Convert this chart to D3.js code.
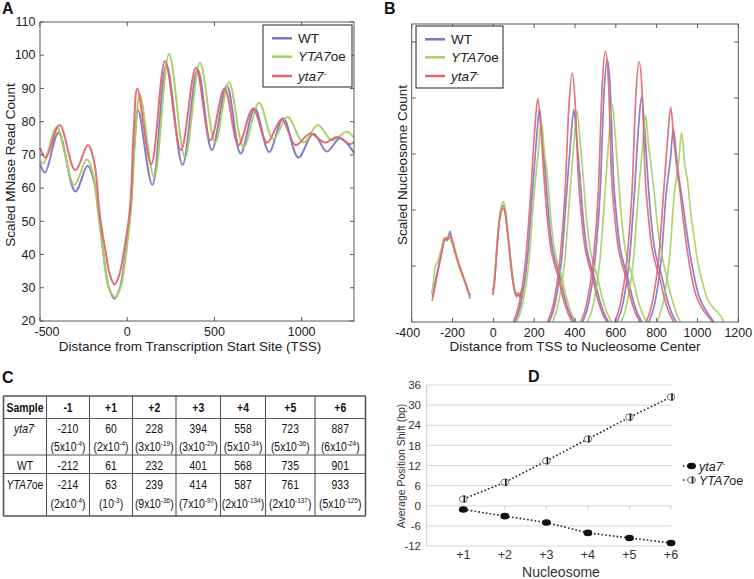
<!DOCTYPE html>
<html><head><meta charset="utf-8">
<script src="https://cdn.jsdelivr.net/npm/d3@7"></script>
<style>
body{margin:0;background:#fff;}
svg{display:block;font-family:"Liberation Sans",Arial,sans-serif;}
</style></head><body>
<svg id="fig" width="754" height="579"></svg>
<script>
// ---------------- DATA ----------------
const strainKeys = ["WT","YTA7oe","yta7-"];
const strainColors = {"WT":"#7a76c6","YTA7oe":"#a6cf62","yta7-":"#e2666f"};

// Panel A: scaled MNase read count vs distance from TSS
const mnaseWT = [[-500,67.2],[-471,64.7],[-394,76.7],[-298,59],[-227,66.7],[-190,62],[-165,53],[-136,40],[-105,30],[-73,26.7],[-42,30],[-10,40],[20,54],[42,73],[63,83.4],[144,61],[225,97],[317,67],[404,95.7],[485,71.4],[571,90.7],[650,70.4],[731,84],[813,70.9],[894,81],[981,69.2],[1067,76.4],[1144,71],[1221,75],[1300,70.6]];
const mnaseOE = [[-500,68.2],[-480,67.4],[-404,78.4],[-304,61],[-231,68.7],[-195,64],[-168,53],[-136,40],[-105,30],[-67,27.2],[-36,30.5],[-7,40],[22,54],[47,77],[73,88.2],[154,63.2],[240,100.4],[331,69.2],[417,97.7],[504,73.7],[583,91.9],[667,72.4],[756,85.7],[837,74.7],[919,81.4],[1010,73.7],[1092,79],[1173,74.4],[1260,77],[1300,75.2]];
const mnaseYta7 = [[-500,72.2],[-467,69.2],[-388,79],[-298,65.4],[-225,73],[-190,68],[-155,51],[-121,40],[-100,34],[-73,31],[-45,34],[-22,40],[16,54],[37,77],[58,90],[138,67.2],[217,98.2],[308,71.4],[394,96.2],[477,74.4],[558,90],[638,73],[721,84],[802,73.7],[885,80.7],[965,73],[1048,76.4],[1135,73.7],[1202,75.4],[1279,73.2],[1300,74]];
const aXTicks = [-500,0,500,1000];
const aYTicks = [20,30,40,50,60,70,80,90,100,110];

// Panel B: scaled nucleosome count (one segment per nucleosome)
const nucWT = [
 [[-298,0.45],[-290,0.62],[-280,0.8],[-268,1.0],[-256,1.2],[-246,1.38],[-236,1.5],[-228,1.45],[-220,1.52],[-212,1.62],[-204,1.48],[-192,1.3],[-178,1.12],[-165,0.98],[-150,0.82],[-136,0.68],[-124,0.55],[-114,0.42]],
 [[-2,0.55],[6,0.78],[14,1.15],[22,1.55],[32,1.9],[42,2.05],[50,2.08],[58,1.98],[66,1.75],[74,1.48],[82,1.2],[90,0.92],[98,0.7],[106,0.55],[114,0.48],[122,0.52],[130,0.47],[138,0.55],[144,0.62]],
 [[106,0],[136,0.35],[166,1.1],[191,2.3],[211,3.24],[226,3.79],[241,3.24],[256,2.6],[271,1.9],[288,1.35],[306,1.05],[326,0.8],[348,0.45],[371,0.18],[396,0]],
 [[274,0],[304,0.35],[334,1.1],[359,2.3],[379,3.24],[394,3.79],[409,3.24],[424,2.6],[439,1.9],[456,1.35],[474,1.05],[494,0.8],[516,0.45],[539,0.18],[564,0]],
 [[438,0],[468,0.35],[498,1.1],[523,2.3],[543,4.14],[558,4.69],[573,4.14],[588,2.6],[603,1.9],[620,1.35],[638,1.05],[658,0.8],[680,0.45],[703,0.18],[728,0]],
 [[606,0],[636,0.35],[666,1.1],[691,2.3],[711,3.47],[726,4.02],[741,3.47],[756,2.6],[771,1.9],[788,1.35],[806,1.05],[826,0.8],[848,0.45],[871,0.18],[896,0]],
 [[762,0],[792,0.35],[822,1.1],[847,2.3],[867,2.89],[882,3.44],[897,2.95],[912,2.5],[927,2.15],[944,1.7],[962,1.25],[982,0.85],[1004,0.5],[1027,0.3],[1052,0.15],[1080,0]]
];
const nucOE = [
 [[-302,0.5],[-294,0.7],[-286,0.98],[-276,1.05],[-264,1.18],[-252,1.35],[-242,1.5],[-234,1.47],[-224,1.53],[-214,1.48],[-204,1.42],[-192,1.28],[-178,1.1],[-162,0.92],[-148,0.8],[-134,0.66],[-122,0.52],[-114,0.46]],
 [[-4,0.5],[4,0.72],[12,1.1],[20,1.5],[30,1.88],[40,2.08],[50,2.15],[58,2.02],[66,1.8],[74,1.52],[82,1.22],[90,0.95],[98,0.72],[106,0.56],[114,0.5],[122,0.48],[130,0.52],[138,0.5],[146,0.6]],
 [[115,0],[145,0.35],[175,1.1],[200,2.3],[220,3.03],[235,3.58],[250,3.03],[265,2.6],[280,1.9],[297,1.35],[315,1.05],[335,0.8],[357,0.45],[380,0.18],[405,0]],
 [[290,0],[320,0.35],[350,1.1],[375,2.3],[395,3.22],[410,3.77],[425,3.22],[440,2.6],[455,1.9],[472,1.35],[490,1.05],[510,0.8],[532,0.45],[555,0.18],[580,0]],
 [[462,0],[492,0.35],[522,1.1],[547,2.3],[567,3.33],[582,3.88],[597,3.33],[612,2.6],[627,1.9],[644,1.35],[662,1.05],[682,0.8],[704,0.45],[727,0.18],[752,0]],
 [[626,0],[656,0.35],[686,1.1],[711,2.3],[731,3.13],[746,3.68],[761,3.13],[776,2.7],[791,2.2],[808,1.6],[826,1.2],[846,0.85],[868,0.5],[891,0.22],[916,0]],
 [[802,0],[832,0.35],[862,1.1],[887,2.3],[907,2.83],[922,3.38],[937,2.83],[952,2.5],[967,1.95],[984,1.5],[1002,1.05],[1022,0.75],[1044,0.45],[1067,0.3],[1092,0.2],[1115,0.1],[1130,0]]
];
const nucYta7 = [
 [[-300,0.38],[-290,0.55],[-278,0.78],[-266,1.0],[-254,1.22],[-244,1.4],[-234,1.5],[-226,1.47],[-218,1.5],[-208,1.52],[-200,1.45],[-188,1.28],[-174,1.1],[-160,0.95],[-146,0.8],[-132,0.66],[-120,0.52],[-112,0.48]],
 [[-2,0.48],[6,0.72],[14,1.1],[22,1.5],[32,1.85],[42,2.0],[50,2.03],[58,1.93],[66,1.7],[74,1.42],[82,1.15],[90,0.88],[98,0.66],[106,0.52],[114,0.45],[122,0.5],[130,0.44],[138,0.52],[144,0.6]],
 [[98,0],[128,0.35],[158,1.1],[183,2.3],[203,3.44],[218,3.99],[233,3.44],[248,2.6],[263,1.9],[280,1.35],[298,1.05],[318,0.8],[340,0.45],[363,0.18],[388,0]],
 [[266,0],[296,0.35],[326,1.1],[351,2.3],[371,3.9],[386,4.45],[401,3.9],[416,2.6],[431,1.9],[448,1.35],[466,1.05],[486,0.8],[508,0.45],[531,0.18],[556,0]],
 [[429,0],[459,0.35],[489,1.1],[514,2.3],[534,4.28],[549,4.83],[564,4.28],[579,2.6],[594,1.9],[611,1.35],[629,1.05],[649,0.8],[671,0.45],[694,0.18],[719,0]],
 [[594,0],[624,0.35],[654,1.1],[679,2.3],[699,4.1],[714,4.65],[729,4.1],[744,2.6],[759,1.9],[776,1.35],[794,1.05],[814,0.8],[836,0.45],[859,0.18],[884,0]],
 [[749,0],[779,0.35],[809,1.1],[834,2.3],[854,3.28],[869,3.83],[884,3.28],[899,2.75],[914,2.35],[931,1.8],[949,1.3],[969,0.85],[991,0.5],[1014,0.3],[1040,0.15],[1075,0]]
];
const bXTicks = [-400,-200,0,200,400,600,800,1000,1200];
const bYTicks = [1,2,3,4,5];

// Panel C: table of nucleosome positions (p-values in parentheses)
const tableHeader = ["Sample","-1","+1","+2","+3","+4","+5","+6"];
const posYta7 = [-210,60,228,394,558,723,887];
const pYta7 = [["5","-4"],["2","-4"],["3","-19"],["3","-29"],["5","-34"],["5","-36"],["6","-24"]];
const posWT = [-212,61,232,401,568,735,901];
const posOE = [-214,63,239,414,587,761,933];
const pOE = [["2","-4"],[null,"-3"],["9","-36"],["7","-97"],["2","-134"],["2","-137"],["5","-125"]];

// Panel D: average position shift (bp) relative to WT
const nucleosomes = ["+1","+2","+3","+4","+5","+6"];
const shiftYta7 = [-1.1,-3.1,-5.0,-8.1,-9.6,-11.1];
const shiftOE = [2.0,7.0,13.4,19.9,26.4,32.4];
const shiftOEErr = [0.9,0.9,0.9,0.9,0.9,0.9];
const dYTicks = [-12,-6,0,6,12,18,24,30,36];

// ---------------- DRAW ----------------
const svg = d3.select("#fig");

function strainLabel(t, key, supSize, dy){
  if(key==="WT"){ t.append("tspan").text("WT"); }
  else if(key==="YTA7oe"){ t.append("tspan").attr("font-style","italic").text("YTA7"); t.append("tspan").text("oe"); }
  else { t.append("tspan").attr("font-style","italic").text("yta7"); t.append("tspan").attr("font-size",supSize).attr("dy",-dy).text("-"); }
}

function panelLetter(x,y,l){
  svg.append("text").attr("x",x).attr("y",y).attr("font-size",16).attr("font-weight","bold").attr("fill","#111").text(l);
}

function boxAxes(g, xs, ys, xt, yt, showYLabels, firstShift){
  const [x0,x1]=xs.range(), [y0,y1]=ys.range();
  g.append("rect").attr("x",x0).attr("y",y1).attr("width",x1-x0).attr("height",y0-y1)
    .attr("fill","none").attr("stroke","#5a5a5a").attr("stroke-width",1);
  xt.forEach((v,i)=>{
    const x=xs(v);
    g.append("line").attr("x1",x).attr("x2",x).attr("y1",y0).attr("y2",y0-4).attr("stroke","#5a5a5a");
    g.append("line").attr("x1",x).attr("x2",x).attr("y1",y1).attr("y2",y1+4).attr("stroke","#5a5a5a");
    g.append("text").attr("x",x+(i===0?firstShift:0)).attr("y",y0+15).attr("text-anchor","middle").attr("font-size",12.5).attr("fill","#222").text(v);
  });
  yt.forEach(v=>{
    const y=ys(v);
    g.append("line").attr("x1",x0).attr("x2",x0+4).attr("y1",y).attr("y2",y).attr("stroke","#5a5a5a");
    g.append("line").attr("x1",x1).attr("x2",x1-4).attr("y1",y).attr("y2",y).attr("stroke","#5a5a5a");
    if(showYLabels) g.append("text").attr("x",x0-4.5).attr("y",y+4.2).attr("text-anchor","end").attr("font-size",12.5).attr("fill","#222").text(v);
  });
}

function legendBox(g, x, y, w, h, rows){
  g.append("rect").attr("x",x).attr("y",y).attr("width",w).attr("height",h).attr("fill","#fff").attr("stroke","#222").attr("stroke-width",1);
  strainKeys.forEach((k,i)=>{
    const yy = rows[i];
    g.append("line").attr("x1",x+9).attr("x2",x+29).attr("y1",yy).attr("y2",yy).attr("stroke",strainColors[k]).attr("stroke-width",2.5);
    const t = g.append("text").attr("x",x+35).attr("y",yy+4.6).attr("font-size",13.5).attr("fill","#222");
    strainLabel(t,k,8,5);
  });
}

// ---- Panel A ----
panelLetter(2,14,"A");
const gA = svg.append("g");
const ax = d3.scaleLinear().domain([-500,1300]).range([40,354]);
const ay = d3.scaleLinear().domain([20,110]).range([321,22]);
const lineA = d3.line().x(d=>ax(d[0])).y(d=>ay(d[1])).curve(d3.curveCatmullRom.alpha(0.5));
[[mnaseWT,"WT"],[mnaseOE,"YTA7oe"],[mnaseYta7,"yta7-"]].forEach(([d,k])=>{
  gA.append("path").attr("d",lineA(d)).attr("fill","none").attr("stroke",strainColors[k]).attr("stroke-width",2).attr("stroke-opacity",0.95);
});
boxAxes(gA, ax, ay, aXTicks, aYTicks, true, 7);
legendBox(gA, 263, 25, 89, 62, [38.3,56.7,76]);
gA.append("text").attr("transform","translate(15,165) rotate(-90)").attr("text-anchor","middle").attr("font-size",13.5).attr("fill","#222").text("Scaled MNase Read Count");
gA.append("text").attr("x",190).attr("y",351).attr("text-anchor","middle").attr("font-size",13.5).attr("fill","#222").text("Distance from Transcription Start Site (TSS)");

// ---- Panel B ----
panelLetter(384,14,"B");
const gB = svg.append("g");
const bx = d3.scaleLinear().domain([-400,1200]).range([411.7,738.3]);
const by = d3.scaleLinear().domain([0,5.32]).range([322,24]);
const lineB = d3.line().x(d=>bx(d[0])).y(d=>by(d[1])).curve(d3.curveMonotoneX);
[[nucWT,"WT"],[nucOE,"YTA7oe"],[nucYta7,"yta7-"]].forEach(([segs,k])=>{
  segs.forEach(s=>{
    gB.append("path").attr("d",lineB(s)).attr("fill","none").attr("stroke",strainColors[k]).attr("stroke-width",1.7).attr("stroke-opacity",0.9);
  });
});
boxAxes(gB, bx, by, bXTicks, bYTicks, false, -4);
legendBox(gB, 416, 26, 87, 62, [39.3,57.3,76]);
gB.append("text").attr("transform","translate(407,165) rotate(-90)").attr("text-anchor","middle").attr("font-size",13.5).attr("fill","#222").text("Scaled Nucleosome Count");
gB.append("text").attr("x",575).attr("y",351).attr("text-anchor","middle").attr("font-size",13.5).attr("fill","#222").text("Distance from TSS to Nucleosome Center");

// ---- Panel C ----
panelLetter(2,383,"C");
const gC = svg.append("g");
const colX = [3.5,46.5,89.5,132.5,176,220.5,265.5,315,365.5];
const rowY = [396,418.5,455,473.5,516];
const cx = i => (colX[i]+colX[i+1])/2;
const NARROW = 0.8;
function cellText(x,y){
  return gC.append("text").attr("transform",`translate(${x},${y}) scale(${NARROW},1)`)
    .attr("text-anchor","middle").attr("font-size",13).attr("fill","#111");
}
rowY.forEach((y,i)=>{
  gC.append("line").attr("x1",colX[0]).attr("x2",colX[colX.length-1]).attr("y1",y).attr("y2",y)
    .attr("stroke","#555").attr("stroke-width",(i===0||i===rowY.length-1)?1.6:1.1);
});
colX.forEach((x,i)=>{
  gC.append("line").attr("x1",x).attr("x2",x).attr("y1",rowY[0]).attr("y2",rowY[rowY.length-1])
    .attr("stroke","#555").attr("stroke-width",(i===0||i===colX.length-1)?1.6:1.1);
});
tableHeader.forEach((h,i)=>{
  cellText(cx(i),412).attr("font-weight","bold").text(h);
});
function sampleCell(key,y){ strainLabel(cellText(cx(0),y),key,8,5); }
function pCell(i,p,y){
  const t = cellText(cx(i+1),y);
  t.append("tspan").text("(" + (p[0]? p[0]+"x10" : "10"));
  t.append("tspan").attr("font-size",8).attr("dy",-5).text(p[1]);
  t.append("tspan").attr("dy",5).text(")");
}
sampleCell("yta7-",433);
posYta7.forEach((v,i)=>cellText(cx(i+1),433).text(v));
pYta7.forEach((p,i)=>pCell(i,p,451));
sampleCell("WT",470);
posWT.forEach((v,i)=>cellText(cx(i+1),470).text(v));
sampleCell("YTA7oe",489);
posOE.forEach((v,i)=>cellText(cx(i+1),489).text(v));
pOE.forEach((p,i)=>pCell(i,p,508));

// ---- Panel D ----
panelLetter(528,382,"D");
const gD = svg.append("g");
const dx = d3.scalePoint().domain(nucleosomes).range([463.3,671]);
const dy = d3.scaleLinear().domain([-12,36]).range([546,385]);
const gridX0 = 426.7, gridX1 = 671.7;
dYTicks.forEach(v=>{
  gD.append("line").attr("x1",gridX0).attr("x2",gridX1).attr("y1",dy(v)).attr("y2",dy(v)).attr("stroke","#d6d6d6").attr("stroke-width",1);
  gD.append("text").attr("x",421).attr("y",dy(v)+4.2).attr("text-anchor","end").attr("font-size",11.5).attr("fill","#333").text(v);
});
gD.append("line").attr("x1",gridX0).attr("x2",gridX0).attr("y1",dy(36)).attr("y2",dy(-12)).attr("stroke","#d0d0d0");
nucleosomes.forEach(n=>{
  gD.append("line").attr("x1",dx(n)).attr("x2",dx(n)).attr("y1",dy(0)).attr("y2",dy(0)+3.5).attr("stroke","#c8c8c8");
  gD.append("text").attr("x",dx(n)).attr("y",559).attr("text-anchor","middle").attr("font-size",12.5).attr("fill","#333").text(n);
});
const lineD = d3.line().x(d=>dx(d[0])).y(d=>dy(d[1]));
const yta7Pts = nucleosomes.map((n,i)=>[n,shiftYta7[i]]);
const oePts = nucleosomes.map((n,i)=>[n,shiftOE[i],shiftOEErr[i]]);
gD.append("path").attr("d",lineD(oePts)).attr("fill","none").attr("stroke","#222").attr("stroke-width",1.6).attr("stroke-dasharray","1.6,2.2");
gD.append("path").attr("d",lineD(yta7Pts)).attr("fill","none").attr("stroke","#222").attr("stroke-width",1.6).attr("stroke-dasharray","1.6,2.2");
function openMarker(g,x,y,err){
  g.append("ellipse").attr("cx",x).attr("cy",y).attr("rx",3.9).attr("ry",3.2).attr("fill","#fff").attr("stroke","#666").attr("stroke-width",0.9);
  g.append("line").attr("x1",x+1).attr("x2",x+1).attr("y1",y-err).attr("y2",y+err).attr("stroke","#111").attr("stroke-width",1.6);
}
function filledMarker(g,x,y){
  g.append("ellipse").attr("cx",x).attr("cy",y).attr("rx",4.4).attr("ry",3.3).attr("fill","#111");
}
oePts.forEach(d=>openMarker(gD,dx(d[0]),dy(d[1]),Math.abs(dy(d[1]+d[2])-dy(d[1]))*1.2));
yta7Pts.forEach(d=>filledMarker(gD,dx(d[0]),dy(d[1])));
// legend
gD.append("line").attr("x1",683).attr("x2",698).attr("y1",466).attr("y2",466).attr("stroke","#222").attr("stroke-width",1.6).attr("stroke-dasharray","1.6,2.2");
filledMarker(gD,691.5,466);
const tl1 = gD.append("text").attr("x",699).attr("y",470.5).attr("font-size",12.5).attr("fill","#222");
strainLabel(tl1,"yta7-",7.5,5);
gD.append("line").attr("x1",683).attr("x2",698).attr("y1",480).attr("y2",480).attr("stroke","#222").attr("stroke-width",1.6).attr("stroke-dasharray","1.6,2.2");
openMarker(gD,691.5,480,3.3);
const tl2 = gD.append("text").attr("x",699).attr("y",484.5).attr("font-size",12.5).attr("fill","#222");
strainLabel(tl2,"YTA7oe",7.5,5);
gD.append("text").attr("transform","translate(405,466) rotate(-90)").attr("text-anchor","middle").attr("font-size",10.5).attr("fill","#333").text("Average Position Shift (bp)");
gD.append("text").attr("x",561).attr("y",577).attr("text-anchor","middle").attr("font-size",14).attr("fill","#333").text("Nucleosome");
</script>
</body></html>
